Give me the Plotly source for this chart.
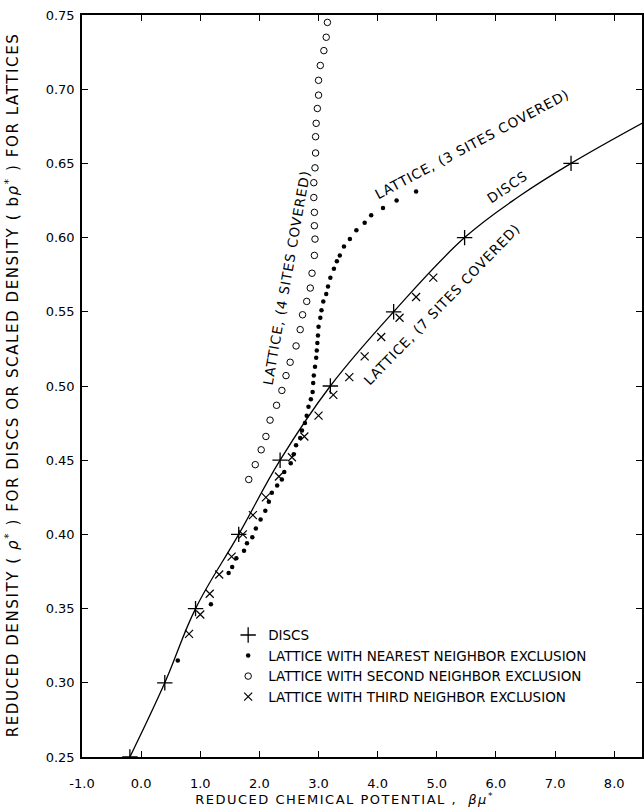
import plotly.graph_objects as go

# ---- data ----
disc_x = [-0.19, 0.40, 0.92, 1.65, 2.35, 3.20, 4.27, 5.47, 7.27]
disc_y = [0.25, 0.30, 0.35, 0.40, 0.45, 0.50, 0.55, 0.60, 0.65]
disc_curve_x = [-0.19, 0.40, 0.92, 1.65, 2.35, 3.20, 4.27, 5.47, 6.40, 7.27, 8.47]
disc_curve_y = [0.25, 0.30, 0.35, 0.40, 0.45, 0.50, 0.55, 0.60, 0.628, 0.65, 0.677]

nn_x = [0.62, 1.18, 1.48, 1.54, 1.61, 1.74, 1.79, 1.88, 1.94, 2.02, 2.10, 2.16, 2.21,
        2.30, 2.38, 2.42, 2.53, 2.58, 2.62, 2.69, 2.72, 2.77, 2.80, 2.83, 2.87, 2.90,
        2.91, 2.92, 2.94, 2.96, 2.97, 2.98, 2.99, 3.00, 3.03, 3.05, 3.08, 3.13, 3.16,
        3.20, 3.26, 3.31, 3.36, 3.43, 3.53, 3.64, 3.78, 3.89, 4.09, 4.32, 4.65]
nn_y = [0.315, 0.353, 0.374, 0.378, 0.384, 0.389, 0.394, 0.398, 0.404, 0.410, 0.416,
        0.422, 0.428, 0.433, 0.437, 0.442, 0.448, 0.454, 0.460, 0.465, 0.470, 0.475,
        0.480, 0.486, 0.491, 0.496, 0.502, 0.507, 0.513, 0.519, 0.524, 0.529, 0.534,
        0.540, 0.546, 0.551, 0.557, 0.562, 0.567, 0.573, 0.579, 0.584, 0.588, 0.594,
        0.599, 0.605, 0.610, 0.615, 0.620, 0.625, 0.631]

sn_x = [1.82, 1.93, 2.03, 2.11, 2.18, 2.29, 2.38, 2.45, 2.52, 2.62, 2.69, 2.73, 2.80,
        2.86, 2.89, 2.93, 2.94, 2.93, 2.93, 2.92, 2.92, 2.94, 2.95, 2.95, 2.96, 2.98,
        3.00, 3.00, 3.03, 3.09, 3.13, 3.15]
sn_y = [0.437, 0.447, 0.457, 0.466, 0.477, 0.487, 0.497, 0.507, 0.516, 0.527, 0.538,
        0.548, 0.557, 0.566, 0.576, 0.588, 0.599, 0.608, 0.617, 0.627, 0.637, 0.647,
        0.657, 0.668, 0.677, 0.687, 0.696, 0.706, 0.716, 0.726, 0.735, 0.745]

tn_x = [0.81, 1.00, 1.16, 1.32, 1.53, 1.72, 1.89, 2.11, 2.33, 2.55, 2.76, 3.00, 3.25,
        3.52, 3.78, 4.06, 4.37, 4.65, 4.94]
tn_y = [0.333, 0.346, 0.360, 0.373, 0.385, 0.400, 0.413, 0.425, 0.439, 0.452, 0.466,
        0.480, 0.494, 0.506, 0.520, 0.533, 0.546, 0.560, 0.573]

x_ticks = [-1, 0, 1, 2, 3, 4, 5, 6, 7, 8]
y_ticks = [0.25, 0.30, 0.35, 0.40, 0.45, 0.50, 0.55, 0.60, 0.65, 0.70, 0.75]

FONT = "DejaVu Sans"
X_RANGE = [-1.0, 8.47]
Y_RANGE = [0.25, 0.75]

fig = go.Figure()
fig.add_trace(go.Scatter(x=disc_curve_x, y=disc_curve_y, mode="lines",
                         line=dict(color="black", width=1.3, shape="spline", smoothing=1.1),
                         showlegend=False, hoverinfo="skip"))
fig.add_trace(go.Scatter(x=disc_x, y=disc_y, mode="markers", name="DISCS",
                         legendgroup="a",
                         marker=dict(symbol="cross-thin", size=11, color="black",
                                     line=dict(color="black", width=1.3))))
fig.add_trace(go.Scatter(x=nn_x, y=nn_y, mode="markers",
                         name="LATTICE WITH NEAREST NEIGHBOR EXCLUSION", legendgroup="b",
                         marker=dict(symbol="circle", size=4.5, color="black")))
fig.add_trace(go.Scatter(x=sn_x, y=sn_y, mode="markers",
                         name="LATTICE WITH SECOND NEIGHBOR EXCLUSION", legendgroup="c",
                         marker=dict(symbol="circle-open", size=6.5, color="black",
                                     line=dict(color="black", width=1))))
fig.add_trace(go.Scatter(x=tn_x, y=tn_y, mode="markers",
                         name="LATTICE WITH THIRD NEIGHBOR EXCLUSION", legendgroup="d",
                         marker=dict(symbol="x-thin", size=8, color="black",
                                     line=dict(color="black", width=1.2))))

ann_font = dict(family=FONT, size=13.5, color="black")
fig.add_annotation(x=6.19, y=0.634, text="DISCS", textangle=-34, showarrow=False, font=ann_font)
fig.add_annotation(x=5.60, y=0.663, text="LATTICE, (3 SITES COVERED)", textangle=-28,
                   showarrow=False, font=ann_font)
fig.add_annotation(x=2.45, y=0.573, text="LATTICE, (4 SITES COVERED)", textangle=-80,
                   showarrow=False, font=ann_font)
fig.add_annotation(x=5.09, y=0.555, text="LATTICE, (7 SITES COVERED)", textangle=-46,
                   showarrow=False, font=ann_font)

# axis titles
fig.add_annotation(xref="paper", yref="paper", x=0.47, y=-0.0566, xanchor="center",
                   yanchor="middle", showarrow=False,
                   text="REDUCED CHEMICAL POTENTIAL ,  <i>βμ</i><sup>*</sup>",
                   font=dict(family=FONT, size=13, color="black"))
fig.add_annotation(xref="paper", yref="paper", x=-0.1246, y=0.501, xanchor="center",
                   yanchor="middle", showarrow=False, textangle=-90,
                   text="REDUCED DENSITY ( <i>ρ</i><sup>*</sup> ) FOR DISCS OR SCALED DENSITY ( b<i>ρ</i><sup>*</sup> ) FOR LATTICES",
                   font=dict(family=FONT, size=15, color="black"))

tick_common = dict(ticks="inside", ticklen=6, tickwidth=1.2, tickcolor="black",
                   showgrid=False, zeroline=False,
                   tickfont=dict(family=FONT, size=13, color="black"))

fig.update_layout(
    width=644, height=810,
    margin=dict(l=82, r=0, t=15, b=53),
    paper_bgcolor="white", plot_bgcolor="white",
    showlegend=True,
    xaxis=dict(range=X_RANGE, tickvals=x_ticks,
               ticktext=[f"{v:.1f}" for v in x_ticks], ticklabelstandoff=14,
               showline=True, linecolor="black", linewidth=1.5, mirror="allticks",
               **tick_common),
    yaxis=dict(range=Y_RANGE, tickvals=y_ticks,
               ticktext=[f"{v:.2f}" for v in y_ticks], ticklabelstandoff=3,
               showline=True, linecolor="black", linewidth=1.5, mirror="allticks",
               **tick_common),
    legend=dict(x=0.261, y=0.185, xanchor="left", yanchor="top",
                bgcolor="rgba(0,0,0,0)", tracegroupgap=0,
                font=dict(family=FONT, size=13.5, color="black"),
                itemwidth=30))

post_js = """
document.body.style.margin = '0';
var gd = document.getElementById('{plot_id}');
function spaceText(){
  gd.querySelectorAll('g.annotation text.annotation-text').forEach(function(t){
    var s = t.textContent || '';
    if (s.indexOf('REDUCED DENSITY') === 0) { t.style.letterSpacing = '1.6px'; }
    else if (s.indexOf('REDUCED CHEMICAL') === 0) { t.style.letterSpacing = '1.5px'; }
    else { t.style.letterSpacing = '0.9px'; }
  });
}
spaceText();
if (gd.on) { gd.on('plotly_afterplot', spaceText); }
"""

fig.write_html("out.html", post_script=post_js, config={"displayModeBar": False})
